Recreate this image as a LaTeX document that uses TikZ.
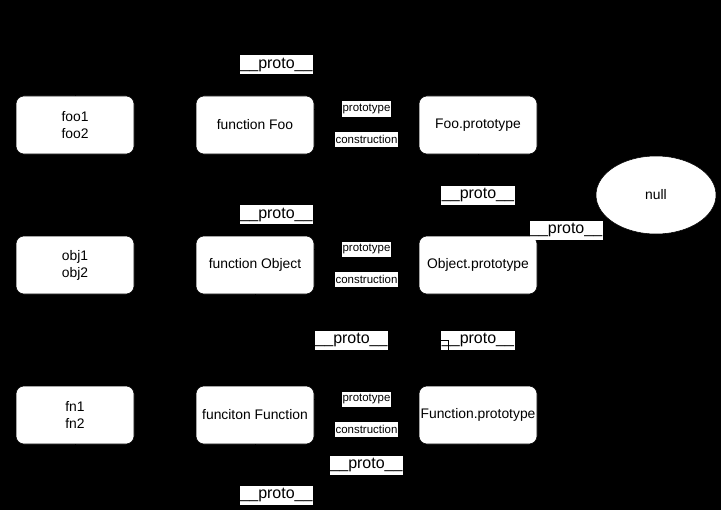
\documentclass[tikz,border=0pt]{standalone}
\usepackage{fontspec}
\setmainfont{Liberation Sans}
\usepackage{tikz}
\usetikzlibrary{calc, shapes.geometric}

\begin{document}
\begin{tikzpicture}[x=0.75pt, y=-0.75pt,
    box/.style={draw=black, fill=white, rounded corners=6pt, minimum width=88.5pt,
        minimum height=43.5pt, inner sep=0pt, align=center,
        font=\fontsize{10.4}{12.75}\selectfont},
    link/.style={draw=black, -latex},
    plbl/.style={fill=white, inner xsep=0.4pt, inner ysep=0pt, minimum height=14.25pt,
        font=\fontsize{12}{14}\selectfont},
    slbl/.style={fill=white, inner xsep=0.8pt, inner ysep=0pt, minimum height=11.25pt,
        font=\fontsize{8.6}{10}\selectfont}]
                \fill[black] (0, 0) rectangle (721, 510);

                \node[box] (foo) at (75, 125) {foo1\\foo2};
                \node[box] (ffoo) at (255, 125) {function Foo};
                \node[box] (fooproto) at (478, 125) {Foo.prototype};
                \node[box] (obj) at (75, 265) {obj1\\obj2};
                \node[box] (fobject) at (255, 265) {function Object};
                \node[box] (objproto) at (478, 265) {Object.prototype};
                \node[box] (fn) at (75, 415) {fn1\\fn2};
                \node[box] (ffunction) at (255, 415) {funciton Function};
                \node[box] (funcproto) at (478, 415) {Function.prototype};
                \node[ellipse, draw=black, fill=white, minimum width=90pt, minimum height=58.5pt,
                    inner sep=0pt, font=\fontsize{10.4}{12.75}\selectfont] (null) at (656, 195) {null};

                \draw[link] (foo.north) -- ++(0, -31) -| node[pos=0.25, plbl]{\_\_proto\_\_} (fooproto.north);
                \draw[link] ($(ffoo.east)+(0, -16)$) -- node[slbl]{prototype} ($(fooproto.west)+(0, -16)$);
                \draw[link] ($(fooproto.west)+(0, 14)$) -- node[slbl]{construction} ($(ffoo.east)+(0, 14)$);
                \draw[link] (fooproto) -- node[plbl]{\_\_proto\_\_} (objproto);

                \draw[link] (objproto) -- node[pos=0.43, plbl]{\_\_proto\_\_} (null);
                \draw[link] (obj.north) -- ++(0, -21) -| node[pos=0.25, plbl]{\_\_proto\_\_} (objproto.north);
                \draw[link] ($(fobject.east)+(0, -16)$) -- node[slbl]{prototype} ($(objproto.west)+(0, -16)$);
                \draw[link] ($(objproto.west)+(0, 14)$) -- node[slbl]{construction} ($(fobject.east)+(0, 14)$);

                \draw[link] (funcproto) -- node[plbl]{\_\_proto\_\_} (objproto);
                \draw[link] (fobject.south) -- ++(0, 46) -| node[pos=0.25, plbl]{\_\_proto\_\_} ([xshift=-22.5pt]funcproto.north);

                \draw[link] ($(ffunction.east)+(0, -16)$) -- node[slbl]{prototype} ($(funcproto.west)+(0, -16)$);
                \draw[link] ($(funcproto.west)+(0, 14)$) -- node[slbl]{construction} ($(ffunction.east)+(0, 14)$);
                \draw[link] (ffunction.south) -- ++(0, 21) -| node[pos=0.25, plbl]{\_\_proto\_\_} (funcproto.south);
                \draw[link] (fn.south) -- ++(0, 51) -| node[pos=0.25, plbl]{\_\_proto\_\_} (funcproto.south);
\end{tikzpicture}
\end{document}
